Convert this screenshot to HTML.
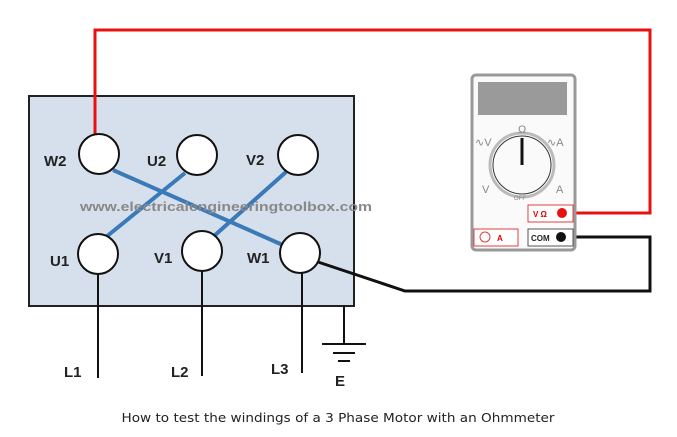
<!DOCTYPE html>
<html><head><style>body{margin:0;background:#fff}svg{display:block}</style></head><body>
<svg width="677" height="437" viewBox="0 0 677 437" xmlns="http://www.w3.org/2000/svg" font-family="Liberation Sans, sans-serif">
<rect x="29" y="96" width="325" height="210" fill="#d6e0ec" stroke="#222" stroke-width="2"/>
<polyline points="95,134 95,30 650,30 650,213 562,213" fill="none" stroke="#e81010" stroke-width="3"/>
<polyline points="318,262 405,291 650,291 650,237 562,237" fill="none" stroke="#111" stroke-width="3"/>
<g stroke="#3a7ab8" stroke-width="4">
<line x1="113" y1="170" x2="285" y2="246"/>
<line x1="185" y1="173" x2="106" y2="237"/>
<line x1="286" y1="172" x2="214" y2="236"/>
</g>
<g stroke="#111" stroke-width="2">
<line x1="98" y1="274" x2="98" y2="378"/>
<line x1="202" y1="271" x2="202" y2="376"/>
<line x1="302" y1="273" x2="302" y2="373"/>
<line x1="344" y1="306" x2="344" y2="344"/>
<line x1="322" y1="344" x2="366" y2="344"/>
<line x1="333" y1="353" x2="355" y2="353"/>
<line x1="338" y1="361" x2="350" y2="361"/>
</g>
<g fill="#fff" stroke="#111" stroke-width="2">
<circle cx="99" cy="154" r="20"/><circle cx="197" cy="155" r="20"/><circle cx="298" cy="155" r="20"/>
<circle cx="98" cy="254" r="20"/><circle cx="202" cy="251" r="20"/><circle cx="300" cy="253" r="20"/>
</g>
<g font-size="15" font-weight="bold" fill="#222">
<text x="44" y="166">W2</text><text x="147" y="166">U2</text><text x="246" y="165">V2</text>
<text x="50" y="266">U1</text><text x="154" y="263">V1</text><text x="247" y="263">W1</text>
<text x="64" y="377">L1</text><text x="171" y="377">L2</text><text x="271" y="374">L3</text>
<text x="335" y="386">E</text>
</g>
<text x="80" y="211" font-size="13" font-weight="bold" fill="#888" textLength="292" lengthAdjust="spacingAndGlyphs">www.electricalengineeringtoolbox.com</text>
<rect x="472" y="75" width="103" height="175" rx="4" fill="#fafafa" stroke="#999" stroke-width="3"/>
<rect x="478" y="82" width="89" height="33" fill="#9a9a9a"/>
<circle cx="522" cy="165" r="32" fill="none" stroke="#bbb" stroke-width="3"/>
<circle cx="522" cy="165" r="29" fill="none" stroke="#333" stroke-width="1"/>
<line x1="522" y1="138" x2="522" y2="165" stroke="#111" stroke-width="3"/>
<g font-size="11" fill="#888"><text x="518" y="133">Ω</text><text x="475" y="146">∿V</text><text x="547" y="146">∿A</text><text x="482" y="193">V</text><text x="556" y="193">A</text><text x="514" y="200" font-size="6">OFF</text></g>
<rect x="528" y="205" width="45" height="17" fill="#fff" stroke="#e04040"/>
<text x="533" y="217" font-size="8" fill="#d00" font-weight="bold">V Ω</text>
<circle cx="562" cy="213" r="5" fill="#e81010"/>
<rect x="528" y="229" width="45" height="17" fill="#fff" stroke="#555"/>
<text x="531" y="241" font-size="8" font-weight="bold" fill="#222">COM</text>
<circle cx="561" cy="237" r="5" fill="#111"/>
<rect x="474" y="229" width="44" height="17" fill="#fff" stroke="#e04040"/>
<circle cx="485" cy="237" r="5" fill="none" stroke="#e04040"/>
<text x="497" y="241" font-size="8" fill="#d00" font-weight="bold">A</text>
<text x="338" y="422" font-family="DejaVu Sans, sans-serif" font-size="12" text-anchor="middle" fill="#222" textLength="433" lengthAdjust="spacingAndGlyphs">How to test the windings of a 3 Phase Motor with an Ohmmeter</text>
</svg>
</body></html>
